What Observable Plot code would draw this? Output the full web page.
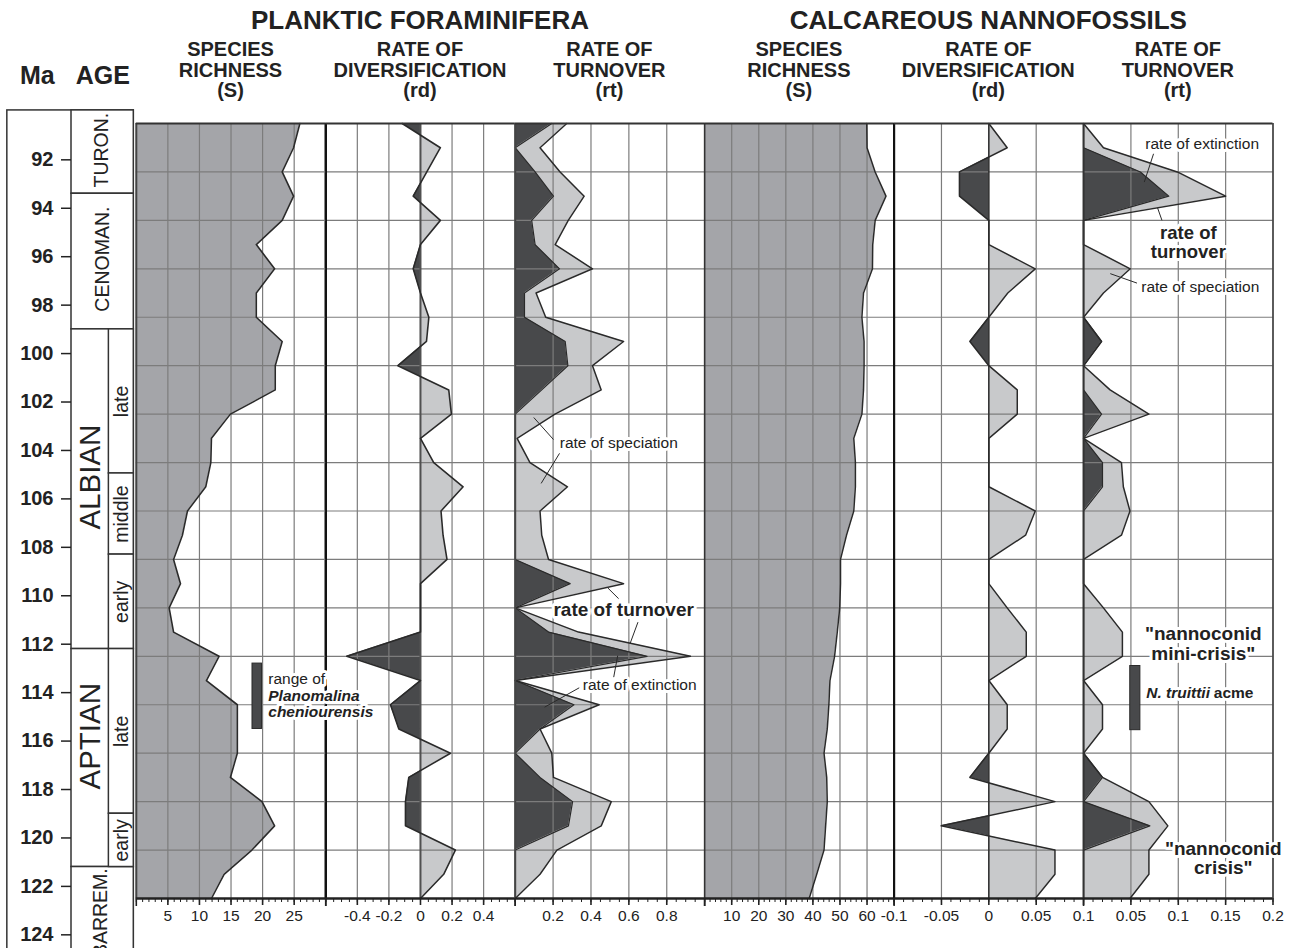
<!DOCTYPE html>
<html>
<head>
<meta charset="utf-8">
<script src="https://cdn.jsdelivr.net/npm/d3@7"></script>
<script src="https://cdn.jsdelivr.net/npm/@observablehq/plot@0.6"></script>
<style>
  body { margin: 0; background: #fff; }
  #chart { position: relative; width: 1294px; height: 948px; overflow: hidden; background: #fff; }
  #chart > svg { position: absolute; left: 0; top: 0; background: transparent !important; overflow: visible !important; max-width: none !important; }
</style>
</head>
<body>
<div id="chart"></div>
<script>
// ---- Sample ages (Ma), one sample per million years ----
const ages = [90.5, 91.5, 92.5, 93.5, 94.5, 95.5, 96.5, 97.5, 98.5, 99.5, 100.5,
  101.5, 102.5, 103.5, 104.5, 105.5, 106.5, 107.5, 108.5, 109.5, 110.5, 111.5,
  112.5, 113.5, 114.5, 115.5, 116.5, 117.5, 118.5, 119.5, 120.5, 121.5, 122.5];

// ---- Planktic foraminifera ----
const pfRichness = [25.9, 24.9, 23.1, 24.9, 23.1, 19.0, 21.9, 19.0, 19.0, 23.1, 22.0,
  22.0, 14.9, 11.9, 11.8, 11.0, 8.1, 7.3, 5.9, 7.0, 5.2, 5.9,
  13.1, 11.1, 16.0, 16.0, 16.0, 14.9, 19.9, 21.9, 18.3, 13.9, 11.9];
const pfDiversification = [-0.116, 0.126, 0.04, -0.046, 0.126, 0.0, -0.046, 0.0, 0.053, 0.038, -0.143,
  0.179, 0.196, 0.0, 0.084, 0.27, 0.13, 0.143, 0.168, 0.0, 0.0, 0.0,
  -0.467, 0.0, -0.19, -0.137, 0.19, -0.074, -0.095, -0.095, 0.221, 0.147, 0.0];
const pfTurnover = [0.272, 0.131, 0.237, 0.364, 0.28, 0.211, 0.408, 0.110, 0.161, 0.572, 0.408,
  0.454, 0.21, 0.01, 0.078, 0.276, 0.131, 0.14, 0.176, 0.572, 0.0, 0.334,
  0.925, 0.0, 0.443, 0.131, 0.193, 0.202, 0.507, 0.454, 0.22, 0.131, 0.0];
const pfExtinction = [0.193, 0.0, 0.105, 0.202, 0.087, 0.105, 0.234, 0.049, 0.049, 0.264, 0.278,
  0.14, 0.0, 0.0, 0.0, 0.0, 0.0, 0.0, 0.0, 0.29, 0.0, 0.176,
  0.696, 0.0, 0.31, 0.131, 0.0, 0.131, 0.303, 0.281, 0.0, 0.0, 0.0];

// ---- Calcareous nannofossils ----
const cnRichness = [59.9, 60.0, 63.0, 67.0, 63.0, 62.1, 62.0, 58.7, 58.1, 58.9, 58.9,
  58.7, 58.1, 55.1, 55.7, 55.7, 55.1, 52.4, 50.2, 50.2, 49.9, 49.0,
  48.0, 46.3, 45.9, 45.3, 44.1, 45.1, 45.3, 44.7, 44.1, 41.4, 38.6];
const cnDiversification = [0.0, 0.0194, -0.031, -0.031, 0.0, 0.0, 0.049, 0.02, 0.0, -0.02, 0.0,
  0.03, 0.03, 0.0, 0.0, 0.0, 0.049, 0.0388, 0.0, 0.0, 0.0194, 0.0395,
  0.0395, 0.0, 0.0194, 0.0194, 0.0, -0.02, 0.0698, -0.0503, 0.0698, 0.0698, 0.049];
const cnTurnover = [0.0, 0.021, 0.099, 0.150, 0.0, 0.0, 0.0493, 0.021, 0.0, 0.019, 0.0,
  0.028, 0.069, 0.0, 0.040, 0.042, 0.049, 0.040, 0.0, 0.0, 0.021, 0.041,
  0.041, 0.0, 0.020, 0.020, 0.0, 0.020, 0.069, 0.089, 0.069, 0.069, 0.049];
const cnExtinction = [0.0, 0.0, 0.060, 0.090, 0.0, 0.0, 0.0, 0.0, 0.0, 0.019, 0.0,
  0.0, 0.019, 0.0, 0.020, 0.020, 0.0, 0.0, 0.0, 0.0, 0.0, 0.0,
  0.0, 0.0, 0.0, 0.0, 0.0, 0.020, 0.0, 0.070, 0.0, 0.0, 0.0];

// ---- Stratigraphy ----
const stageNames = ["TURON.", "CENOMAN.", "ALBIAN", "APTIAN", "BARREM."];
const stageTops = [89.96, 93.4, 99.0, 112.2, 121.2];
const stageBases = [93.4, 99.0, 112.2, 121.2, 126.5];
const stageLabelAt = [91.6, 96.1, 105.1, 115.8, 121.25];
const substageNames = ["late", "middle", "early", "late", "early"];
const substageTops = [99.0, 104.95, 108.3, 112.2, 119.0];
const substageBases = [104.95, 108.3, 112.2, 119.0, 121.2];

// Biostratigraphic ranges marked beside the curves
const planomalinaRange = [112.8, 115.5];
const truittiiAcme = [112.9, 115.55];

// ---- Ticks ----
const ageTicks = [92, 94, 96, 98, 100, 102, 104, 106, 108, 110, 112, 114, 116, 118, 120, 122, 124];
const gridAges = [92.5, 94.5, 96.5, 98.5, 100.5, 102.5, 104.5, 106.5, 108.5, 110.5, 112.5, 114.5, 116.5, 118.5, 120.5];
const pfRichnessTicks = [5, 10, 15, 20, 25];
const pfDiversificationTicks = [-0.4, -0.2, 0, 0.2, 0.4];
const pfTurnoverTicks = [0.2, 0.4, 0.6, 0.8];
const cnRichnessTicks = [10, 20, 30, 40, 50, 60];
const cnDiversificationTicks = [-0.1, -0.05, 0, 0.05, 0.1];
const cnTurnoverTicks = [0.05, 0.1, 0.15, 0.2];

// ---- Layout & style ----
const W = 1294, H = 948, TOP = 123, BOTTOM = 898;
const TOP_MA = 90.5, BASE_MA = 122.5;
const EDGES = [135.8, 325.25, 514.7, 704.15, 893.6, 1083.05, 1272.5];
const FONT = "'Liberation Sans', Arial, Helvetica, sans-serif";
const GRAY = "#a4a5a9", LIGHT = "#c8c9cb", DARK = "#48494b";
const GRID = "#7c7c7c", INK = "#2a2a2a";

const pf = ages.map((ma, i) => ({ma, s: pfRichness[i], rd: pfDiversification[i], turn: pfTurnover[i], ext: pfExtinction[i]}));
const cn = ages.map((ma, i) => ({ma, s: cnRichness[i], rd: cnDiversification[i], turn: cnTurnover[i], ext: cnExtinction[i]}));
const stages = stageNames.map((name, i) => ({name, top: stageTops[i], base: stageBases[i], at: stageLabelAt[i]}));
const substages = substageNames.map((name, i) => ({name, top: substageTops[i], base: substageBases[i]}));

const chart = document.getElementById("chart");

function panelPlot(k, xDomain, marks) {
  return Plot.plot({
    width: W, height: H,
    marginLeft: EDGES[k], marginRight: W - EDGES[k + 1],
    marginTop: TOP, marginBottom: H - BOTTOM,
    x: {domain: xDomain, axis: null},
    y: {domain: [TOP_MA, BASE_MA], reverse: true, axis: null},
    style: {fontFamily: FONT, color: "#222"},
    marks
  });
}

const grid = (xs) => [
  Plot.gridX(xs, {stroke: GRID, strokeOpacity: 1, strokeWidth: 1.2}),
  Plot.gridY(gridAges, {stroke: GRID, strokeOpacity: 1, strokeWidth: 1.2})
];

const frameTopBottom = () => [
  Plot.ruleY([TOP_MA], {stroke: "#333", strokeWidth: 2}),
  Plot.ruleY([BASE_MA], {stroke: "#222", strokeWidth: 2.5})
];

function bottomAxis(labelled, edges, minor) {
  return [
    Plot.axisX(minor, {anchor: "bottom", tickSize: 4, tickFormat: () => "", label: null, strokeWidth: 1}),
    Plot.axisX(edges, {anchor: "bottom", tickSize: 8, tickFormat: () => "", label: null, strokeWidth: 1.6}),
    Plot.axisX(labelled, {anchor: "bottom", tickSize: 7, tickPadding: 4, tickFormat: d => String(d),
      label: null, fontSize: 15.5, strokeWidth: 1.6})
  ];
}

// Labels sit on a white halo so grid lines break around them
const halo = {fill: "#222", stroke: "white", strokeWidth: 6};
const leader = {stroke: INK, strokeWidth: 1};

// Diverging fill: left of zero dark, right of zero light
function addSignFill(svg, id) {
  const x0 = svg.scale("x").apply(0);
  const defs = d3.select(svg).insert("defs", ":first-child");
  const g = defs.append("linearGradient").attr("id", id)
    .attr("gradientUnits", "userSpaceOnUse")
    .attr("x1", x0 - 0.05).attr("x2", x0 + 0.05).attr("y1", 0).attr("y2", 0);
  g.append("stop").attr("offset", 0).attr("stop-color", DARK);
  g.append("stop").attr("offset", 1).attr("stop-color", LIGHT);
}

// ---- Age column ----
const agePlot = Plot.plot({
  width: W, height: H,
  marginLeft: 71, marginRight: W - 133.3,
  marginTop: TOP, marginBottom: H - BOTTOM,
  x: {domain: [0, 1], axis: null},
  y: {domain: [TOP_MA, BASE_MA], reverse: true, axis: null},
  style: {fontFamily: FONT, color: "#222"},
  marks: [
    Plot.rect([0], {x1: () => -1.03, x2: () => 1, y1: () => stageTops[0], y2: () => 127, fill: "white", stroke: "#333", strokeWidth: 1.5}),
    Plot.rect(stages, {x1: () => 0, x2: () => 1, y1: "top", y2: "base", fill: "white", stroke: "#333", strokeWidth: 1.5}),
    Plot.rect(substages, {x1: () => 0.6, x2: () => 1, y1: "top", y2: "base", fill: "white", stroke: "#333", strokeWidth: 1.5}),
    Plot.text(stages.filter(d => d.name === "CENOMAN."), {x: () => 0.5, y: "at", text: "name", rotate: -90, fontSize: 19.5}),
    Plot.text(stages.filter(d => d.name === "TURON."), {x: () => 0.48, y: "at", text: "name", rotate: -90, fontSize: 19.5}),
    Plot.text(stages.filter(d => d.name === "ALBIAN" || d.name === "APTIAN"), {x: () => 0.3, y: "at", text: "name", rotate: -90, fontSize: 29.5}),
    Plot.text(stages.filter(d => d.name === "BARREM."), {x: () => 0.47, y: "at", text: "name", rotate: -90, fontSize: 19.5, textAnchor: "end"}),
    Plot.text(substages, {x: () => 0.8, y: d => (d.top + d.base) / 2, text: "name", rotate: -90, fontSize: 19.5}),
    Plot.axisY(ageTicks, {anchor: "left", tickSize: 10, tickPadding: 8, fontSize: 20, fontWeight: "bold",
      tickFormat: d => String(d), label: null, strokeWidth: 1.5})
  ]
});

// ---- Panel 1: planktic foraminifera species richness ----
const p1 = panelPlot(0, [0, 30], [
  Plot.areaX(pf, {y: "ma", x1: () => 0, x2: "s", fill: GRAY}),
  ...grid([5, 10, 15, 20, 25]),
  Plot.lineX(pf, {x: "s", y: "ma", stroke: INK, strokeWidth: 1.6}),
  Plot.ruleX([0], {stroke: "#444", strokeWidth: 2}),
  ...frameTopBottom(),
  ...bottomAxis(pfRichnessTicks, [0, 30], d3.range(0, 31, 1)),
  Plot.rect([0], {x1: () => 18.4, x2: () => 19.9, y1: () => planomalinaRange[0], y2: () => planomalinaRange[1], fill: DARK, stroke: INK, strokeWidth: 1}),
  Plot.text(["range of"], {x: () => 20.9, y: () => 113.43, text: d => d, textAnchor: "start", fontSize: 15.5, ...halo}),
  Plot.text(["Planomalina"], {x: () => 20.9, y: () => 114.12, text: d => d, textAnchor: "start", fontSize: 15.5, fontWeight: "bold", fontStyle: "italic", ...halo}),
  Plot.text(["cheniourensis"], {x: () => 20.9, y: () => 114.8, text: d => d, textAnchor: "start", fontSize: 15.5, fontWeight: "bold", fontStyle: "italic", ...halo})
]);

// ---- Panel 2: planktic foraminifera rate of diversification ----
const p2 = panelPlot(1, [-0.6, 0.6], [
  Plot.areaX(pf, {y: "ma", x1: () => 0, x2: "rd", fill: "url(#pfSignFill)"}),
  ...grid([-0.4, -0.2, 0.2, 0.4]),
  Plot.ruleX([0], {stroke: "#505050", strokeWidth: 2}),
  Plot.lineX(pf, {x: "rd", y: "ma", stroke: INK, strokeWidth: 1.6}),
  Plot.ruleX([-0.6], {stroke: "#111", strokeWidth: 2.5}),
  ...frameTopBottom(),
  ...bottomAxis(pfDiversificationTicks, [-0.6, 0.6], d3.range(-12, 13).map(i => i * 0.05))
]);
addSignFill(p2, "pfSignFill");

// ---- Panel 3: planktic foraminifera rate of turnover ----
const p3 = panelPlot(2, [0, 1], [
  Plot.areaX(pf, {y: "ma", x1: () => 0, x2: "turn", fill: LIGHT}),
  Plot.areaX(pf, {y: "ma", x1: () => 0, x2: "ext", fill: DARK}),
  ...grid([0.2, 0.4, 0.6, 0.8]),
  Plot.lineX(pf, {x: "turn", y: "ma", stroke: INK, strokeWidth: 1.5}),
  Plot.lineX(pf, {x: "ext", y: "ma", stroke: INK, strokeWidth: 1.2}),
  Plot.ruleX([0], {stroke: "#444", strokeWidth: 2}),
  ...frameTopBottom(),
  ...bottomAxis(pfTurnoverTicks, [0, 1], d3.range(0, 21).map(i => i * 0.05)),
  Plot.text(["rate of speciation"], {x: () => 0.235, y: () => 103.71, text: d => d, textAnchor: "start", fontSize: 15.5, ...halo}),
  Plot.text(["rate of turnover"], {x: () => 0.202, y: () => 110.6, text: d => d, textAnchor: "start", fontSize: 19, fontWeight: "bold", ...halo}),
  Plot.text(["rate of extinction"], {x: () => 0.357, y: () => 113.67, text: d => d, textAnchor: "start", fontSize: 15.5, ...halo}),
  Plot.link([[0.098, 102.64, 0.202, 103.55], [0.234, 104.12, 0.137, 105.36],
    [0.488, 109.67, 0.546, 110.12], [0.648, 111.09, 0.607, 111.96],
    [0.541, 112.47, 0.52, 113.36], [0.338, 113.8, 0.155, 114.6]],
    {x1: d => d[0], y1: d => d[1], x2: d => d[2], y2: d => d[3], ...leader})
]);

// ---- Panel 4: calcareous nannofossil species richness ----
const p4 = panelPlot(3, [0, 70], [
  Plot.areaX(cn, {y: "ma", x1: () => 0, x2: "s", fill: GRAY}),
  ...grid([10, 20, 30, 40, 50, 60]),
  Plot.lineX(cn, {x: "s", y: "ma", stroke: INK, strokeWidth: 1.5}),
  Plot.ruleX([0], {stroke: "#333", strokeWidth: 1.6}),
  ...frameTopBottom(),
  ...bottomAxis(cnRichnessTicks, [0, 70], d3.range(0, 71, 2))
]);

// ---- Panel 5: calcareous nannofossil rate of diversification ----
const p5 = panelPlot(4, [-0.1, 0.1], [
  Plot.areaX(cn, {y: "ma", x1: () => 0, x2: "rd", fill: "url(#cnSignFill)"}),
  ...grid([-0.05, 0.05]),
  Plot.ruleX([0], {stroke: "#333", strokeWidth: 1.6}),
  Plot.lineX(cn, {x: "rd", y: "ma", stroke: INK, strokeWidth: 1.5}),
  Plot.ruleX([-0.1], {stroke: "#111", strokeWidth: 2.2}),
  ...frameTopBottom(),
  ...bottomAxis(cnDiversificationTicks, [], d3.range(-10, 11).map(i => i * 0.01))
]);
addSignFill(p5, "cnSignFill");

// ---- Panel 6: calcareous nannofossil rate of turnover ----
const p6 = panelPlot(5, [0, 0.2], [
  Plot.areaX(cn, {y: "ma", x1: () => 0, x2: "turn", fill: LIGHT}),
  Plot.areaX(cn, {y: "ma", x1: () => 0, x2: "ext", fill: DARK}),
  ...grid([0.05, 0.1, 0.15]),
  Plot.lineX(cn, {x: "turn", y: "ma", stroke: INK, strokeWidth: 1.5}),
  Plot.lineX(cn, {x: "ext", y: "ma", stroke: INK, strokeWidth: 1.2}),
  Plot.ruleX([0], {stroke: "#333", strokeWidth: 2}),
  Plot.ruleX([0.2], {stroke: "#333", strokeWidth: 1.6}),
  ...frameTopBottom(),
  ...bottomAxis(cnTurnoverTicks, [0], d3.range(0, 21).map(i => i * 0.01)),
  Plot.text(["rate of extinction"], {x: () => 0.0652, y: () => 91.34, text: d => d, textAnchor: "start", fontSize: 15.5, ...halo}),
  Plot.text(["rate of\nturnover"], {x: () => 0.1106, y: () => 95.42, text: d => d, fontSize: 18.5, fontWeight: "bold", lineHeight: 1.03, ...halo}),
  Plot.text(["rate of speciation"], {x: () => 0.0609, y: () => 97.26, text: d => d, textAnchor: "start", fontSize: 15.5, ...halo}),
  Plot.link([[0.0739, 91.75, 0.0641, 92.92], [0.0781, 93.98, 0.0828, 94.5], [0.0282, 96.7, 0.0564, 97.09]],
    {x1: d => d[0], y1: d => d[1], x2: d => d[2], y2: d => d[3], ...leader}),
  Plot.text(["\"nannoconid\nmini-crisis\""], {x: () => 0.1264, y: () => 111.98, text: d => d, fontSize: 19, fontWeight: "bold", lineHeight: 1.05, ...halo}),
  Plot.rect([0], {x1: () => 0.0493, x2: () => 0.06, y1: () => truittiiAcme[0], y2: () => truittiiAcme[1], fill: DARK, stroke: INK, strokeWidth: 1}),
  Plot.text(["N. truittii"], {x: () => 0.0662, y: () => 114.02, text: d => d, textAnchor: "start", fontSize: 15.5, fontWeight: "bold", fontStyle: "italic", ...halo}),
  Plot.text(["acme"], {x: () => 0.1375, y: () => 114.02, text: d => d, textAnchor: "start", fontSize: 15.5, fontWeight: "bold", ...halo}),
  Plot.text(["\"nannoconid\ncrisis\""], {x: () => 0.1475, y: () => 120.83, text: d => d, fontSize: 19, fontWeight: "bold", lineHeight: 1.0, ...halo})
]);

// ---- Column headings ----
const head = d3.create("svg").attr("width", W).attr("height", H)
  .attr("font-family", FONT).attr("fill", "#222").attr("font-weight", "bold");
const groupTitles = ["PLANKTIC FORAMINIFERA", "CALCAREOUS NANNOFOSSILS"];
const panelTitles = [["SPECIES", "RICHNESS", "(S)"], ["RATE OF", "DIVERSIFICATION", "(rd)"], ["RATE OF", "TURNOVER", "(rt)"]];
groupTitles.forEach((t, g) => {
  head.append("text").attr("x", (EDGES[3 * g] + EDGES[3 * g + 3]) / 2).attr("y", 29)
    .attr("text-anchor", "middle").attr("font-size", 26).text(t);
});
for (let k = 0; k < 6; k++) {
  panelTitles[k % 3].forEach((line, j) => {
    head.append("text").attr("x", (EDGES[k] + EDGES[k + 1]) / 2).attr("y", 56 + j * 20.5)
      .attr("text-anchor", "middle").attr("font-size", 20).text(line);
  });
}
head.append("text").attr("x", 20).attr("y", 84).attr("font-size", 25).text("Ma");
head.append("text").attr("x", 130).attr("y", 84).attr("text-anchor", "end").attr("font-size", 25).text("AGE");

[agePlot, p2, p3, p4, p5, p6, p1, head.node()].forEach(el => chart.appendChild(el));
</script>
</body>
</html>
